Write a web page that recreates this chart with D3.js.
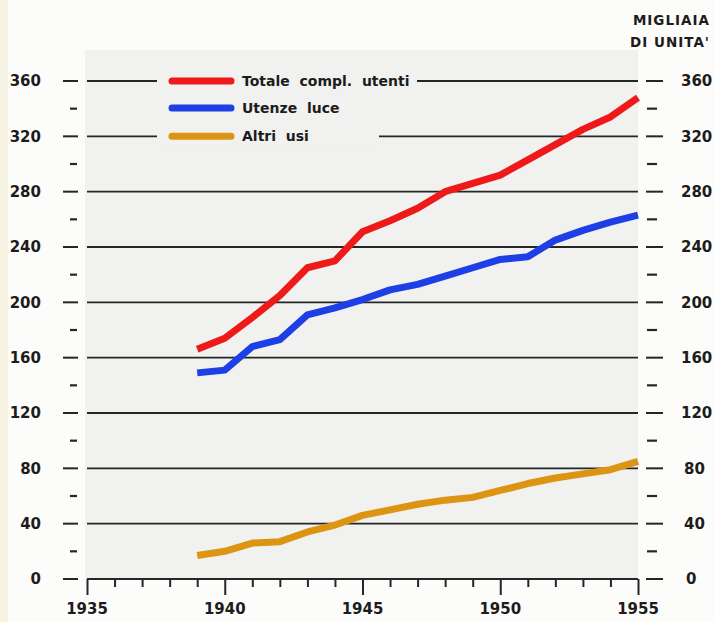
<!DOCTYPE html>
<html><head><meta charset="utf-8">
<script src="https://cdn.jsdelivr.net/npm/d3@7"></script>
<style>
html,body{margin:0;padding:0;background:#fcfcfa;}
svg{display:block;}
text{font-family:"DejaVu Sans",sans-serif;font-weight:bold;fill:#1c1c1c;}
</style></head><body>
<script>
const years = [1939,1940,1941,1942,1943,1944,1945,1946,1947,1948,1949,1950,1951,1952,1953,1954,1955];
const totale = [166,174,189,205,225,230,251,259,268,280,286,292,303,314,325,334,348];
const luce   = [149,151,168,173,191,196,202,209,213,219,225,231,233,245,252,258,263];
const altri  = [17,20,26,27,34,39,46,50,54,57,59,64,69,73,76,79,85];
const seriesNames = ["Totale  compl.  utenti","Utenze  luce","Altri  usi"];
const seriesColors = ["#ee1a1a","#1f3fe6","#dc9512"];
const yMajor = [0,40,80,120,160,200,240,280,320,360];
const yMinor = [20,60,100,140,180,220,260,300,340];
const xMajor = [1935,1940,1945,1950,1955];
const unitLabel = ["MIGLIAIA","DI  UNITA'"];

const W=715,H=622;
const svg=d3.select("body").append("svg").attr("width",W).attr("height",H);
const x=d3.scaleLinear().domain([1935,1955]).range([87,638]);
const y=d3.scaleLinear().domain([0,360]).range([579,81]);

// left yellowish strip
svg.append("rect").attr("x",0).attr("y",0).attr("width",8).attr("height",H).attr("fill","#f7f3e2");
// plot background
svg.append("rect").attr("x",85).attr("y",50).attr("width",553).attr("height",529).attr("fill","#f1f1ef");

// grid lines
svg.append("g").selectAll("line").data(yMajor.filter(d=>d>0)).join("line")
  .attr("x1",x(1935)).attr("x2",x(1955)).attr("y1",d=>y(d)).attr("y2",d=>y(d))
  .attr("stroke","#262626").attr("stroke-width",1.8);

// left/right ticks
const tickG=svg.append("g").attr("stroke","#262626");
tickG.selectAll(".lmaj").data(yMajor).join("line").attr("x1",63).attr("x2",78)
  .attr("y1",d=>y(d)).attr("y2",d=>y(d)).attr("stroke-width",2);
tickG.selectAll(".lmin").data(yMinor).join("line").attr("x1",70).attr("x2",77)
  .attr("y1",d=>y(d)).attr("y2",d=>y(d)).attr("stroke-width",2.2);
tickG.selectAll(".rmaj").data(yMajor).join("line").attr("x1",646).attr("x2",663)
  .attr("y1",d=>y(d)).attr("y2",d=>y(d)).attr("stroke-width",2);
tickG.selectAll(".rmin").data(yMinor).join("line").attr("x1",647).attr("x2",657)
  .attr("y1",d=>y(d)).attr("y2",d=>y(d)).attr("stroke-width",2.2);

// y labels
svg.append("g").selectAll("text").data(yMajor).join("text")
  .attr("x",41).attr("y",d=>y(d)).attr("dy","0.36em").attr("text-anchor","end")
  .attr("font-size",15).text(d=>d);
svg.append("g").selectAll("text").data(yMajor).join("text")
  .attr("x",d=>d===0?686:(d<100?684:681)).attr("y",d=>y(d)).attr("dy","0.36em").attr("text-anchor","start")
  .attr("font-size",15).text(d=>d);

// unit label
svg.append("g").selectAll("text").data(unitLabel).join("text")
  .attr("x",710).attr("y",(d,i)=>25+i*22).attr("text-anchor","end")
  .attr("font-size",13.5).attr("letter-spacing",1).text(d=>d);

// x axis
const xAxis=d3.axisBottom(x).tickValues(d3.range(1935,1956)).tickSize(8).tickFormat("");
const ax=svg.append("g").attr("transform",`translate(0,${y(0)})`).call(xAxis);
ax.select(".domain").attr("stroke","#262626").attr("stroke-width",2.2).attr("d",`M${x(1935)},0H${x(1955)}`);
ax.selectAll(".tick line").attr("stroke","#262626").attr("stroke-width",2)
  .attr("y2",d=>xMajor.includes(d)?16:8);
svg.append("g").selectAll("text").data(xMajor).join("text")
  .attr("x",d=>x(d)).attr("y",614).attr("text-anchor","middle").attr("font-size",15).text(d=>d);

// legend
const legY=[y(360),108,y(320)];
const leg=svg.append("g");
const legW=[260,185,222];
leg.selectAll("rect").data(seriesNames).join("rect")
  .attr("x",157).attr("y",(d,i)=>legY[i]-10).attr("width",(d,i)=>legW[i]).attr("height",20)
  .attr("fill","#f1f1ef");
leg.selectAll("line").data(seriesNames).join("line")
  .attr("x1",172).attr("x2",231).attr("y1",(d,i)=>legY[i]).attr("y2",(d,i)=>legY[i])
  .attr("stroke",(d,i)=>seriesColors[i]).attr("stroke-width",7).attr("stroke-linecap","round");
leg.selectAll("text").data(seriesNames).join("text")
  .attr("x",242).attr("y",(d,i)=>legY[i]).attr("dy","0.36em").attr("font-size",14)
  .style("white-space","pre").attr("xml:space","preserve").text(d=>d);

// series lines
const line=d3.line().x((d,i)=>x(years[i])).y(d=>y(d)).curve(d3.curveLinear);
[totale,luce,altri].forEach((s,k)=>{
  svg.append("path").datum(s).attr("d",line).attr("fill","none")
    .attr("stroke",seriesColors[k]).attr("stroke-width",7).attr("stroke-linejoin","round").attr("stroke-linecap","butt");
});
</script>
</body></html>
